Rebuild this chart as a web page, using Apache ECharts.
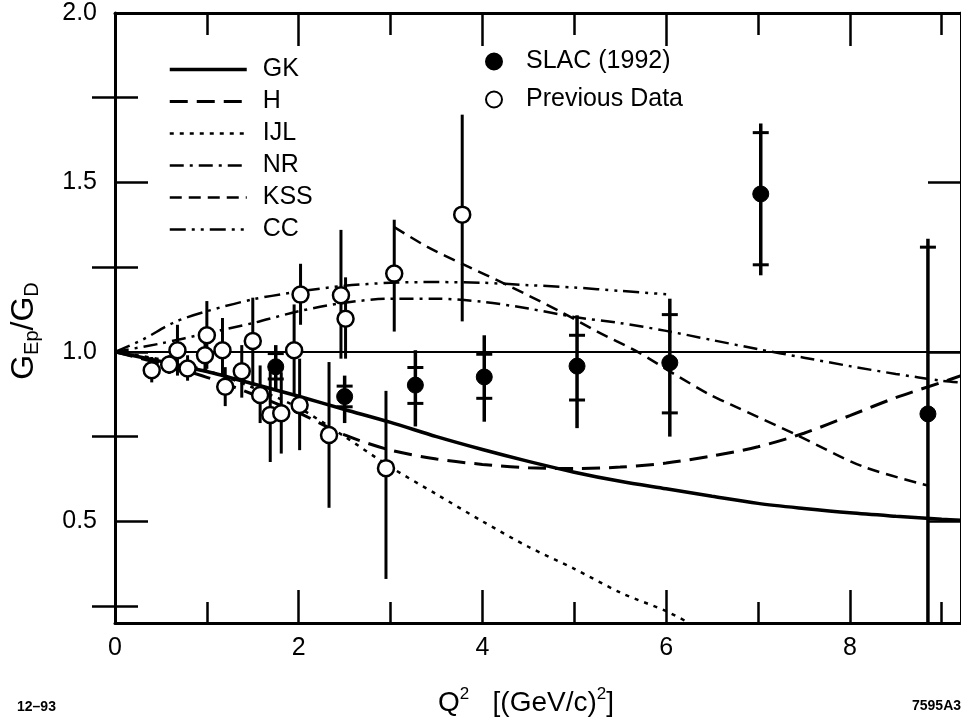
<!DOCTYPE html>
<html>
<head>
<meta charset="utf-8">
<script src="https://cdn.jsdelivr.net/npm/echarts@6/dist/echarts.min.js"></script>
<style>
html,body{margin:0;padding:0;background:#fff;}
#chart{width:961px;height:718px;}
</style>
</head>
<body>
<div id="chart"></div>
<script>
// ---------------- data ----------------
const xMajorTicks = [0, 2, 4, 6, 8];
const xMinorTicks = [1, 3, 5, 7, 9];
const yMajorTicks = [0.5, 1.0, 1.5, 2.0];
const yMinorTicks = [0.25, 0.75, 1.25, 1.75];

// theory curves [Q2, GEp/GD]
const gkCurve = [[0,1],[0.5,0.972],[1,0.942],[1.5,0.906],[2,0.869],[2.5,0.83],[3,0.792],[3.5,0.75],[4,0.712],[4.5,0.677],[5,0.645],[5.5,0.618],[6,0.596],[6.5,0.574],[7,0.553],[7.5,0.538],[8,0.525],[8.5,0.515],[9,0.506],[9.21,0.503]];
const hCurve = [[0,1],[0.5,0.965],[1,0.925],[1.5,0.875],[2,0.82],[2.5,0.755],[3,0.71],[3.5,0.684],[4,0.668],[4.5,0.658],[5,0.656],[5.5,0.66],[6,0.672],[6.5,0.693],[7,0.72],[7.5,0.76],[8,0.812],[8.5,0.865],[9,0.91],[9.21,0.93]];
const ijlCurve = [[0,1],[0.5,0.978],[1,0.945],[1.5,0.895],[2,0.835],[2.5,0.75],[3,0.66],[3.5,0.58],[4,0.5],[4.5,0.425],[5,0.36],[5.5,0.29],[6,0.235],[6.25,0.2]];
const nrCurve = [[0,1],[0.5,1.025],[1,1.055],[1.5,1.085],[2,1.12],[2.5,1.145],[3,1.157],[3.5,1.157],[4,1.148],[4.5,1.128],[5,1.103],[5.5,1.085],[6,1.062],[6.5,1.035],[7,1.008],[7.5,0.983],[8,0.958],[8.5,0.935],[9,0.915],[9.21,0.91]];
const kssCurve = [[3.04,1.368],[3.4,1.31],[3.78,1.26],[4.28,1.196],[4.89,1.113],[5.25,1.06],[5.69,1.0],[6.08,0.936],[6.48,0.873],[6.7,0.845],[7.42,0.755],[8.14,0.662],[8.86,0.605]];
const ccCurve = [[0,1],[0.3,1.036],[0.65,1.088],[1,1.12],[1.5,1.155],[2,1.178],[2.5,1.195],[3,1.204],[3.5,1.206],[4,1.204],[4.5,1.197],[5,1.19],[5.5,1.18],[6,1.17]];
const unityLine = [[0,1],[9.21,1]];

// previous data (open circles)
const prevX  = [0.40, 0.59, 0.68, 0.79, 1.00, 0.98, 1.17, 1.20, 1.38, 1.50, 1.58, 1.69, 1.81, 1.95, 2.01, 2.02, 2.33, 2.46, 2.51, 2.95, 3.04, 3.78];
const prevY  = [0.946,0.963,1.005,0.951,1.049,0.990,1.005,0.897,0.943,1.032,0.873,0.814,0.819,1.005,0.843,1.169,0.755,1.167,1.098,0.657,1.231,1.405];
const prevLo = [0.91, 0.935,0.93, 0.915,0.95, 0.94, 0.93, 0.84, 0.865,0.90, 0.79, 0.675,0.70, 0.87, 0.71, 1.08, 0.54, 0.98, 0.98, 0.33, 1.06, 1.09];
const prevHi = [0.985,0.99, 1.08, 0.99, 1.15, 1.04, 1.10, 0.955,1.02, 1.16, 0.96, 0.95, 0.94, 1.14, 0.98, 1.26, 0.97, 1.36, 1.22, 0.885,1.39, 1.70];

// SLAC (1992) (filled circles): statistical ticks and total error extent
const slacX      = [1.75, 2.50, 3.27, 4.02, 5.03, 6.04, 7.03, 8.85];
const slacY      = [0.956,0.868,0.902,0.926,0.958,0.968,1.466,0.817];
const slacStatLo = [0.92, 0.838,0.848,0.863,0.858,0.82, 1.257,0.10];
const slacStatHi = [0.995,0.899,0.954,0.993,1.049,1.11, 1.647,1.309];
const slacTotLo  = [0.89, 0.79, 0.78, 0.794,0.775,0.75, 1.226,0.0];
const slacTotHi  = [1.02, 0.93, 1.005,1.049,1.108,1.157,1.674,1.334];

// ---------------- chart ----------------
const FONT = '"Liberation Sans", Arial, Helvetica, sans-serif';
const chart = echarts.init(document.getElementById('chart'), null, {renderer: 'canvas'});

const prevScatter = prevX.map((x, i) => [x, prevY[i]]);
const prevBars = prevX.map((x, i) => [x, prevY[i], prevLo[i], prevHi[i]]);
const slacScatter = slacX.map((x, i) => [x, slacY[i]]);
const slacBars = slacX.map((x, i) => [x, slacY[i], slacStatLo[i], slacStatHi[i], slacTotLo[i], slacTotHi[i]]);

function prevBarRender(params, api) {
  const x = api.value(0);
  const a = api.coord([x, api.value(2)]);
  const b = api.coord([x, api.value(3)]);
  return {type: 'line', shape: {x1: a[0], y1: a[1], x2: b[0], y2: b[1]},
          style: {stroke: '#000', lineWidth: 3}};
}
function slacBarRender(params, api) {
  const x = api.value(0);
  const t1 = api.coord([x, api.value(4)]);
  const t2 = api.coord([x, api.value(5)]);
  const s1 = api.coord([x, api.value(2)]);
  const s2 = api.coord([x, api.value(3)]);
  const hw = 8;
  return {type: 'group', children: [
    {type: 'line', shape: {x1: t1[0], y1: t1[1], x2: t2[0], y2: t2[1]}, style: {stroke: '#000', lineWidth: 3.5}},
    {type: 'line', shape: {x1: s1[0]-hw, y1: s1[1], x2: s1[0]+hw, y2: s1[1]}, style: {stroke: '#000', lineWidth: 3}},
    {type: 'line', shape: {x1: s2[0]-hw, y1: s2[1], x2: s2[0]+hw, y2: s2[1]}, style: {stroke: '#000', lineWidth: 3}}
  ]};
}

function curve(name, data, width, dash) {
  return {name: name, type: 'line', data: data, symbol: 'none', showSymbol: false,
          smooth: 0.3, clip: true, z: 2,
          itemStyle: {color: 'rgba(0,0,0,0)', borderWidth: 0, opacity: 0},
          lineStyle: {color: '#000', width: width, type: dash, opacity: 1}};
}

const xBase = {type: 'value', min: 0, max: 9.21, splitLine: {show: false}};
const yBase = {type: 'value', min: 0.2, max: 2.0, splitLine: {show: false}};
const axLine = {show: true, onZero: false, lineStyle: {color: '#000', width: 3}};
const noLine = {show: false};

const option = {
  animation: false,
  backgroundColor: '#fff',
  grid: {left: 115, right: -5, top: 13, bottom: 95, containLabel: false},
  xAxis: [
    Object.assign({}, xBase, {position: 'bottom', axisLine: axLine,
      axisTick: {show: true, inside: true, length: 33, customValues: xMajorTicks, lineStyle: {color: '#000', width: 2.5}},
      axisLabel: {show: true, customValues: xMajorTicks, margin: 13, fontSize: 25, color: '#000', fontFamily: FONT,
                  formatter: v => String(v)}}),
    Object.assign({}, xBase, {position: 'bottom', axisLine: noLine,
      axisTick: {show: true, inside: true, length: 21, customValues: xMinorTicks, lineStyle: {color: '#000', width: 2.5}},
      axisLabel: {show: false}}),
    Object.assign({}, xBase, {position: 'top', axisLine: axLine,
      axisTick: {show: true, inside: true, length: 33, customValues: xMajorTicks, lineStyle: {color: '#000', width: 2.5}},
      axisLabel: {show: false}}),
    Object.assign({}, xBase, {position: 'top', axisLine: noLine,
      axisTick: {show: true, inside: true, length: 22, customValues: xMinorTicks, lineStyle: {color: '#000', width: 2.5}},
      axisLabel: {show: false}})
  ],
  yAxis: [
    Object.assign({}, yBase, {position: 'left', axisLine: axLine,
      axisTick: {show: true, inside: true, length: 33, customValues: yMajorTicks, lineStyle: {color: '#000', width: 2.5}},
      axisLabel: {show: true, customValues: yMajorTicks, margin: 18, fontSize: 25, color: '#000', fontFamily: FONT,
                  formatter: v => v.toFixed(1)}}),
    Object.assign({}, yBase, {position: 'left', axisLine: noLine,
      axisTick: {show: true, inside: true, length: 23, customValues: yMinorTicks, lineStyle: {color: '#000', width: 2.5}},
      axisLabel: {show: false}}),
    Object.assign({}, yBase, {position: 'right', axisLine: axLine,
      axisTick: {show: true, inside: true, length: 33, customValues: yMajorTicks, lineStyle: {color: '#000', width: 2.5}},
      axisLabel: {show: false}}),
    Object.assign({}, yBase, {position: 'right', axisLine: noLine,
      axisTick: {show: true, inside: true, length: 23, customValues: yMinorTicks, lineStyle: {color: '#000', width: 2.5}},
      axisLabel: {show: false}})
  ],
  legend: [
    {data: ['GK', 'H', 'IJL', 'NR', 'KSS', 'CC'], orient: 'vertical', left: 168, top: 57, padding: 0,
     itemWidth: 77, itemHeight: 20, itemGap: 7, selectedMode: false,
     itemStyle: {opacity: 0, borderWidth: 0},
     lineStyle: {width: 'inherit', type: 'inherit', color: '#000'},
     textStyle: {fontSize: 25, lineHeight: 20, color: '#000', fontFamily: FONT, padding: [0, 0, 0, 11]}},
    {data: ['SLAC (1992)', 'Previous Data'], orient: 'vertical', left: 485, top: 49, padding: 0,
     itemWidth: 16, itemHeight: 16, itemGap: 13, selectedMode: false,
     textStyle: {fontSize: 25, lineHeight: 20, color: '#000', fontFamily: FONT, padding: [0, 0, 0, 19]}}
  ],
  series: [
    {name: 'unity', type: 'line', data: unityLine, symbol: 'none', z: 1, lineStyle: {color: '#000', width: 2}},
    curve('GK', gkCurve, 3.5, 'solid'),
    curve('H', hCurve, 3, [18, 9]),
    curve('IJL', ijlCurve, 2.5, [4, 6]),
    curve('NR', nrCurve, 2.5, [14, 6, 3, 6]),
    curve('KSS', kssCurve, 2.5, [12, 7]),
    curve('CC', ccCurve, 2.5, [16, 6, 3, 6, 3, 6]),
    {name: 'prevBars', type: 'custom', data: prevBars, renderItem: prevBarRender, clip: true, z: 3,
     encode: {x: 0, y: 1}},
    {name: 'slacBars', type: 'custom', data: slacBars, renderItem: slacBarRender, clip: true, z: 3,
     encode: {x: 0, y: 1}},
    {name: 'Previous Data', type: 'scatter', data: prevScatter, symbol: 'circle', symbolSize: 16, z: 4,
     itemStyle: {color: '#fff', borderColor: '#000', borderWidth: 2.5, opacity: 1}},
    {name: 'SLAC (1992)', type: 'scatter', data: slacScatter, symbol: 'circle', symbolSize: 16, z: 4,
     itemStyle: {color: '#000', borderColor: '#000', borderWidth: 1, opacity: 1}}
  ],
  graphic: [
    {type: 'text', x: 24, y: 331, rotation: Math.PI / 2, z: 10,
     style: {text: '{g|G}{s|Ep}{g|/G}{s|D}', align: 'center', verticalAlign: 'middle', fill: '#000',
       rich: {g: {fontSize: 32, lineHeight: 36, fontFamily: FONT, fill: '#000'},
              s: {fontSize: 20, lineHeight: 15, verticalAlign: 'bottom', fontFamily: FONT, fill: '#000'}}}},
    {type: 'text', x: 438, y: 703, z: 10,
     style: {text: '{m|Q}{p|2}{m|   [(GeV/c)}{p|2}{m|]}', align: 'left', verticalAlign: 'middle', fill: '#000',
       rich: {m: {fontSize: 28, lineHeight: 34, fontFamily: FONT, fill: '#000'},
              p: {fontSize: 17, lineHeight: 24, verticalAlign: 'top', fontFamily: FONT, fill: '#000'}}}},
    {type: 'text', x: 17, y: 707, z: 10,
     style: {text: '12–93', fontSize: 14, fontWeight: 'bold', fontFamily: FONT, fill: '#000', align: 'left', verticalAlign: 'middle'}},
    {type: 'text', x: 912, y: 706, z: 10,
     style: {text: '7595A3', fontSize: 14, fontWeight: 'bold', fontFamily: FONT, fill: '#000', align: 'left', verticalAlign: 'middle'}}
  ]
};
chart.setOption(option);
</script>
</body>
</html>
